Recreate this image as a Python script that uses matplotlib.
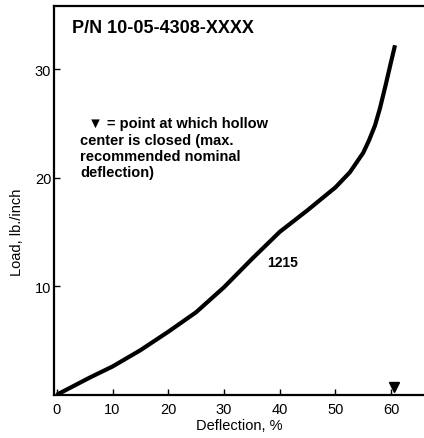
import matplotlib.pyplot as plt

# Load-deflection curve for part 1215
deflection = [0, 3, 6, 10, 15, 20, 25, 30, 35, 40, 45, 50, 52.6, 55.0,
              56.0, 57.1, 58.0, 59.0, 60.0, 60.7]
load = [0, 0.8, 1.6, 2.6, 4.1, 5.8, 7.6, 9.9, 12.5, 15.0, 17.0, 19.1, 20.5,
        22.3, 23.4, 24.8, 26.4, 28.5, 30.7, 32.2]

closed_x = 60.5
closed_y = 0.75

xticks = [0, 10, 20, 30, 40, 50, 60]
yticks = [10, 20, 30]

plain = ['Liberation Sans', 'DejaVu Sans']

fig = plt.figure(figsize=(4.24, 4.39), dpi=100)
ax = fig.add_axes([0.1274, 0.0986, 0.8726, 0.885])

ax.plot(deflection, load, color='black', lw=3.0, solid_capstyle='butt')
ax.plot([closed_x], [closed_y], marker='v', color='black', markersize=6.5, ls='none')

ax.set_xlim(-0.5, 65.9)
ax.set_ylim(0, 35.8)

ax.spines['right'].set_visible(False)
for s in ['left', 'top', 'bottom']:
    ax.spines[s].set_linewidth(1.6)

ax.set_xticks(xticks)
ax.set_yticks(yticks)
ax.tick_params(direction='in', length=4, width=1)
ax.tick_params(axis='x', pad=5)
ax.tick_params(axis='y', pad=2)
for lab in ax.get_xticklabels() + ax.get_yticklabels():
    lab.set_family(plain)
    lab.set_fontsize(10.5)

ax.set_xlabel('Deflection, %', family=plain, fontsize=10.5, labelpad=2)
ax.set_ylabel('Load, lb./inch', family=plain, fontsize=10.5)
ax.yaxis.set_label_coords(-0.081, 0.42)

ax.text(0.049, 0.946, 'P/N 10-05-4308-XXXX', transform=ax.transAxes,
        family=plain, fontsize=13, fontweight='bold', va='center', ha='left')

ax.text(0.070, 0.636,
        '  \u25bc = point at which hollow\ncenter is closed (max.\nrecommended nominal\ndeflection)',
        transform=ax.transAxes, family=plain, fontsize=10.5, fontweight='bold',
        va='center', ha='left', linespacing=1.2)

ax.text(37.7, 12.2, '1215', family=plain, fontsize=10, fontweight='bold',
        va='center', ha='left')

fig.savefig('out.png', dpi=100)
